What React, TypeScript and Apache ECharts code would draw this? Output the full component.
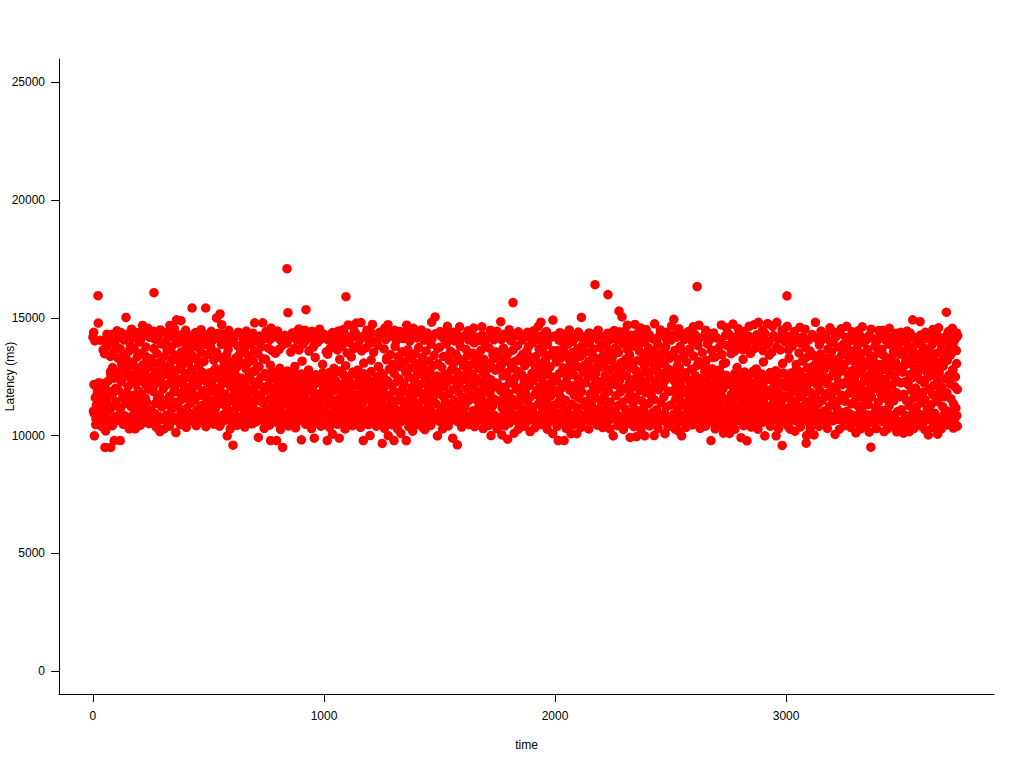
import React, { useEffect, useRef } from "react";
import * as echarts from "echarts";

const xTicks = [0, 1000, 2000, 3000];
const yTicks = [0, 5000, 10000, 15000, 20000, 25000];

const outliers = [[22,15944],[264,16070],[840,17090],[844,15220],[922,15350],[1095,15900],[1818,15650],[2173,16410],[2229,15990],[2615,16330],[3004,15940],[3694,15240],[2277,15290],[2290,15040]];
const topEdge = [[23,14780],[143,15020],[429,15420],[488,15420],[362,14920],[381,14880],[535,15000],[550,15170],[557,14710],[333,14680],[215,14680],[1481,15040],[1466,14820],[1534,14640],[1765,14840],[1939,14820],[1928,14640],[1991,14910],[2114,15020],[2313,14690],[2346,14720],[2431,14750],[2514,14940],[2505,14670],[1358,14690],[1277,14710],[2278,14410],[2623,14690],[2880,14810],[2960,14810],[3127,14810],[3262,14640],[3548,14920],[3580,14840],[3418,14470],[3496,14390],[700,14790],[735,14790],[1160,14800],[1210,14720],[1105,14700],[1140,14780],[2720,14700],[2770,14740],[2840,14640],[2920,14760],[3005,14640],[3060,14600],[3190,14580],[3330,14620],[3660,14580],[3720,14560]];
const bottomEdge = [[6,9990],[52,9495],[77,9495],[92,9790],[118,9790],[55,10200],[157,10290],[183,10290],[290,10170],[307,10280],[359,10130],[581,9990],[606,9595],[716,9920],[769,9790],[795,9790],[821,9495],[902,9820],[958,9890],[1014,9790],[1066,9890],[1170,9790],[1199,10000],[1037,10060],[1252,9665],[1278,10000],[1303,9790],[1333,10090],[1356,9790],[1384,10190],[1491,9990],[1557,9890],[1577,9610],[1437,10250],[1723,10000],[1770,10030],[1795,9850],[1823,10100],[1892,10170],[1990,10080],[2014,9790],[2039,9790],[2069,10080],[2094,10080],[2252,9990],[2325,9920],[2353,9960],[2388,9990],[2429,10000],[2476,10080],[2548,9990],[2538,10170],[2675,9790],[2729,10100],[2755,10090],[2805,9910],[2831,9780],[2908,9990],[2957,9990],[2983,9580],[3039,10190],[3087,9680],[3089,10000],[3121,10030],[3212,10050],[3302,10120],[3367,9510],[3360,10150],[3424,10170],[3479,10160],[3508,10100],[3533,10170],[3616,10030],[3656,10060]];

const bottomRim = [[12,10470],[38,10390],[84,10420],[131,10480],[170,10380],[206,10440],[243,10510],[274,10360],[331,10400],[378,10470],[404,10350],[447,10420],[489,10380],[523,10490],[548,10400],[594,10290],[623,10430],[657,10360],[689,10500],[741,10310],[764,10440],[812,10260],[846,10410],[877,10330],[921,10480],[946,10300],[987,10400],[1024,10350],[1059,10480],[1091,10280],[1123,10420],[1158,10350],[1192,10470],[1226,10400],[1262,10310],[1296,10460],[1318,10290],[1367,10380],[1402,10450],[1429,10340],[1462,10430],[1513,10280],[1538,10410],[1596,10360],[1627,10470],[1652,10380],[1689,10300],[1714,10430],[1749,10290],[1783,10410],[1841,10270],[1867,10400],[1912,10330],[1938,10470],[1966,10270],[2009,10390],[2048,10310],[2077,10450],[2112,10350],[2146,10280],[2183,10440],[2207,10340],[2238,10290],[2271,10420],[2296,10260],[2341,10380],[2372,10280],[2409,10410],[2446,10300],[2489,10380],[2521,10260],[2567,10350],[2594,10450],[2628,10310],[2651,10400],[2693,10290],[2712,10430],[2746,10330],[2779,10270],[2817,10420],[2849,10360],[2878,10270],[2932,10400],[2967,10290],[3007,10410],[3018,10270],[3062,10370],[3104,10280],[3142,10390],[3179,10310],[3231,10270],[3254,10420],[3281,10340],[3322,10280],[3345,10440],[3391,10300],[3438,10280],[3456,10410],[3492,10270],[3521,10350],[3552,10300],[3579,10420],[3601,10250],[3634,10340],[3672,10290],[3698,10450],[3724,10320],[3741,10400]];
const topRim = [[3,14390],[61,14310],[104,14450],[167,14520],[194,14380],[238,14560],[262,14430],[291,14490],[319,14370],[352,14560],[401,14470],[447,14320],[468,14500],[512,14430],[541,14340],[588,14470],[628,14390],[664,14440],[692,14350],[749,14420],[771,14570],[799,14440],[863,14350],[891,14530],[917,14480],[948,14430],[981,14520],[1037,14380],[1062,14440],[1084,14510],[1131,14440],[1186,14480],[1241,14390],[1263,14570],[1306,14470],[1329,14420],[1387,14560],[1421,14490],[1446,14360],[1502,14420],[1561,14390],[1587,14620],[1623,14450],[1648,14570],[1683,14620],[1721,14480],[1749,14430],[1802,14500],[1841,14410],[1881,14390],[1907,14450],[1963,14420],[2021,14370],[2062,14490],[2101,14400],[2147,14360],[2187,14480],[2228,14350],[2256,14460],[2303,14440],[2371,14570],[2394,14510],[2456,14490],[2483,14390],[2536,14540],[2577,14420],[2598,14620],[2652,14480],[2686,14360],[2743,14580],[2793,14540],[2817,14420],[2862,14710],[2899,14490],[2942,14640],[2983,14490],[3036,14420],[3082,14520],[3151,14440],[3208,14390],[3239,14540],[3286,14410],[3312,14450],[3368,14520],[3401,14460],[3447,14560],[3476,14350],[3524,14440],[3603,14390],[3636,14510],[3702,14420],[3738,14360]];
const midFill = [[76,12720],[132,12960],[148,13210],[201,12880],[229,13360],[268,13080],[305,12790],[344,13280],[386,12980],[414,13480],[459,13000],[524,12760],[566,13180],[599,12920],[633,13420],[668,13060],[708,12830],[747,13240],[768,12990],[786,13560],[809,12860],[841,12740],[874,12940],[905,13160],[933,12790],[962,13320],[994,13030],[1016,13460],[1043,12860],[1068,13240],[1094,12970],[1118,13340],[1147,12790],[1172,13080],[1204,13210],[1236,12930],[1271,13290],[1302,12800],[1337,13140],[1364,13460],[1393,12890],[1426,13200],[1458,12760],[1493,13050],[1527,13370],[1554,12810],[1588,13190],[1618,12940],[1642,13420],[1677,13060],[1704,12790],[1738,13280],[1763,12980],[1794,13510],[1822,12850],[1859,13140],[1885,13380],[1921,12780],[1949,13070],[1978,12920],[2004,13300],[2037,12740],[2063,13210],[2088,12990],[2121,13470],[2158,12830],[2192,13110],[2224,13360],[2255,12900],[2283,13010],[2317,13220],[2349,12770],[2378,13120],[2407,13400],[2432,12870],[2468,13060],[2497,13290],[2529,12960],[2561,13450],[2594,12800],[2622,13150],[2651,13000],[2683,13320],[2711,12790],[2738,13090],[2762,13480],[2788,12890],[2814,13240],[2843,13570],[2871,12830],[2902,13130],[2927,13420],[2956,12760],[2985,13060],[3013,13290],[3044,12820],[3071,13170],[3098,13390],[3126,12900],[3157,13070],[3189,13310],[3216,12800],[3247,13020],[3276,13230],[3303,12880],[3334,13140],[3365,13390],[3392,12770],[3428,13060],[3456,13280],[3487,12920],[3518,13200],[3546,13420],[3574,12860],[3607,13100],[3635,13340],[3663,12960],[3691,13210],[3722,12790],[3738,13060]];

// Latencies in time order, one block per 250 units of time.
const from0 = [14180,11040,12170,10930,14020,11610,10710,11290,12040,11830,10880,11420,12250,10620,11150,11750,14050,10970,11980,12210,11340,13640,10560,11690,13480,12120,10820,11220,13790,11510,14220,10680,12330,11880,13960,11090,13370,12620,10510,14290,11730,12890,13550,11260,12440,10790,13860,12010,11440,14110,12760,10640,13290,11920,12570,10910,13690,11160,14380,12280,13050,10590,11630,13440,12480,14060,10840,11370,13210,12700,11810,10690,14300,12090,13580,11540,12950,10750,13810,11230,12380,14150,11700,13120,10870,12600,13670,11050,14240,12180,10530,11470,13340,12830,11900,10960,13980,12520,11310,14070,10650,11770,13510,12300,13010,11130,14350,12650,10800,11580,13760,12110,11400,13240,10570,12900,11960,14180,12430,10730];
const from250 = [13260,11070,14320,12510,10620,11880,13700,12140,10930,14090,11360,12720,10540,13480,11590,12280,14240,10810,11740,13110,12420,10680,13890,11210,12990,14400,11980,10740,13350,11480,12610,14010,10860,12160,13620,11310,10560,12850,14200,11670,13040,10920,12330,13780,11120,14360,12540,10650,11860,13430,12060,14130,11430,10770,12780,13930,11260,13190,10600,12390,14270,11790,12920,10990,13550,11540,12200,14060,10700,13320,11940,12650,10530,13840,11150,14310,12470,11620,13080,10840,12040,13660,11370,14170,10630,12810,11830,13400,12260,10950,13980,11500,12580,14380,10720,13240,11100,12110,13750,10580,12950,11700,14040,12350,10880,13530,11280,12690,14220,11910,10660,13150,12440,11040,13870,10790,11560,14110,12230,13460];
const from500 = [14300,11250,10580,12670,11870,13760,10940,12320,14050,11480,10700,13210,12040,14210,11130,12850,10830,13540,11680,12460,14120,10620,11980,13340,11350,12790,10520,13870,12180,11560,14330,10890,12530,13020,11770,10660,14000,11220,13440,12290,10980,13650,11440,12710,10740,14260,12080,11630,13130,10570,12390,13950,11040,14140,11820,12600,10860,13300,11310,12910,10610,13810,12170,11520,14370,10760,11930,13560,12450,11180,10540,13080,14080,11730,12240,10910,13710,11390,12820,10640,14190,12000,11600,13390,10810,12550,11090,13900,11850,12360,10690,14290,11270,13180,12730,10960,13610,11470,12120,14020,10590,11760,13490,12280,11020,12930,10720,14230,11640,12480,13780,10850,11410,13270,12050,10630,14110,11900,12640,11160];
const from750 = [12520,14280,11080,10660,12130,13720,11540,10870,14090,11920,12410,10590,13610,11270,12720,10750,14320,11700,12040,13500,10940,11380,12600,14170,10540,11850,12290,13660,11150,10820,14040,12470,11610,10680,13840,12100,11330,12670,10920,14260,11790,10560,12210,13930,11470,10740,12550,14150,11020,11980,10630,13550,12340,11240,10890,14360,11680,12760,10710,13710,12060,11420,10520,14080,12490,11110,11840,10960,13640,12180,11560,10650,14220,12620,11290,10790,13880,11930,12380,10600,11730,14010,11060,12250,10850,14300,11500,12710,10700,13590,12010,11360,10570,14130,12450,11190,11880,10910,13770,12150,11620,10670,14250,12580,11310,10810,13960,11770,12330,10530,11440,14060,11000,12230,10760,14340,11590,12660,10620,11950];
const from1000 = [11150,14290,10640,12420,11820,13560,10890,12110,14080,11360,10550,12680,11690,13720,10970,12270,14200,11480,10720,12540,11060,13880,11930,10600,12350,14340,11240,10830,13640,12050,11570,10680,12740,14130,11410,10930,12180,13790,11780,10520,12600,14030,11130,10770,12300,14260,11610,10880,13510,12000,11320,10640,12490,13950,11890,10950,12220,14160,11480,10700,12700,11040,13690,11730,10580,12140,14320,11270,10830,12560,13820,11650,10980,12380,14060,11180,10620,11960,13600,12080,11400,10750,12630,14240,11540,10900,12260,13730,11830,10540,12460,14110,11090,10810,12170,13920,11700,11000,12720,14350,11350,10660,12020,13540,11590,10860,12330,14000,11210,10730,11910,12510,13840,11450,10590,12230,14190,11770,10940,12650];
const from1250 = [11420,14300,10630,12560,11060,13680,12080,10860,14080,11730,13220,10540,12330,11240,14190,10970,12820,11590,13440,10720,12150,14350,11350,10600,13030,11890,12640,10810,13790,11130,14020,12280,10660,11510,13350,10920,12420,14240,11670,10580,12930,11020,13560,11960,10740,14120,12210,11300,13130,10870,12710,14360,11450,10640,13650,11810,12490,10990,14010,11190,12870,10700,13280,12050,11580,14270,10530,12370,11760,13480,10900,13060,11270,14150,12590,10680,11930,13740,11400,12180,10820,14300,11090,12780,13330,10620,11650,12920,14050,10950,12460,11510,13590,11840,10750,14210,12120,11240,13170,10570,12680,11700,13890,11010,14100,12310,10850,11470,12980,13410,10690,12000,14330,11350,12530,10930,13710,11780,12230,10610];
const from1500 = [13750,10880,12490,14230,11150,12900,10610,11680,13360,12070,14090,10740,11430,12620,13890,11010,12260,14340,10560,11790,13200,12420,10960,13580,11260,14160,12810,10680,11950,13040,11510,14020,12340,10820,13460,11110,12700,14280,10590,11870,13280,12160,10930,13800,11370,14120,12540,10720,11640,13110,12960,10500,14240,11220,12380,13660,10850,11980,13390,12750,11470,14060,10640,12230,13000,11730,14310,10770,12610,13500,11060,12100,13940,10900,11560,13170,12440,14180,10620,11830,12850,13310,11310,14040,10980,12300,13620,11600,10700,14270,12030,12660,13240,11170,10530,13850,11900,12510,14130,10800,11400,13080,12190,13720,10950,11750,14330,12370,12920,10660,11250,13430,12050,14070,10860,11530,12780,13560,10590,12140];
const from1750 = [12230,14260,10720,11460,13380,12810,10580,11900,14090,13010,11180,10840,12540,13720,11620,14310,10650,12080,13240,11320,12680,10960,14150,13500,11790,10530,12370,13090,11040,14020,12900,10760,11540,13640,12190,10880,14220,11260,12470,13170,11960,10610,13820,12720,11390,14340,10700,12020,13310,11700,10990,12590,14060,13450,11130,10810,12280,12970,11850,14180,10560,13590,11480,12430,10910,13780,12120,11610,14280,10680,13130,11230,12640,13940,11030,12330,10780,14110,11750,12840,13360,10600,11920,14240,12520,11340,10860,13680,12060,13050,11560,14000,10640,12400,11170,13540,10940,12760,14320,11810,13210,10720,12150,11430,13860,12610,10540,14130,11080,12910,13420,11680,10830,12270,14200,11990,13600,10670,12490,11290];
const from2000 = [11830,14240,10680,13130,12320,10940,13620,11410,14050,12640,10570,11650,13290,12010,14330,10800,11230,12880,13760,10620,12210,14120,11500,13440,10980,12470,11070,13880,10730,12760,14280,11920,13060,10540,12130,11340,13530,14010,10860,12580,11720,13210,10650,12040,14180,11190,12930,13690,10770,12380,11590,14300,10910,13370,12170,11860,13810,10590,12700,14080,11280,12990,10690,13570,12240,11460,14220,10840,12520,11010,13150,13930,10610,11780,12830,14110,11360,13480,10970,12100,13680,10720,12430,11620,14340,12650,10530,13260,11950,13020,11140,14040,10880,12290,13740,11500,10660,12910,14190,12060,13400,10790,11690,13110,12550,10950,13850,11240,14270,12350,10600,11880,13590,12800,11430,14090,10740,12180,13200,11060];
const from2250 = [13380,11010,14230,12490,10700,13720,11690,12150,10910,14080,12820,11270,13540,10580,12330,14310,11850,13090,10790,12620,11430,13890,11990,10640,14150,12960,11130,13250,10860,12540,13650,11560,14020,10510,12230,13430,11770,12870,10980,14260,12050,13000,11340,10710,13800,12400,14110,11620,10830,12730,13180,11060,14340,12190,10620,13590,11910,12580,10940,13950,11480,12300,14200,10740,13310,11200,12910,14060,10560,11820,13470,12100,12680,10880,13730,11370,14280,12450,10660,13120,11700,12010,14130,10990,13620,12780,11530,10590,13330,12260,14010,11100,12940,10770,13860,11950,12520,14240,10850,13220,11410,12650,13510,10630,12130,14320,11640,13060,10920,12360,13770,11220,14090,10720,12840,11880,13400,10540,12570,14170];
const from2500 = [11300,14060,12760,10640,13440,11880,14280,10920,12310,13620,11520,12040,10730,14180,12590,11140,13250,10560,12880,11700,13790,12170,10860,14330,11410,10620,12470,13560,11960,14080,10780,11230,12670,13130,11790,10990,14210,12380,11480,10680,13680,12090,11060,12810,10530,14000,11620,12250,13380,10840,11340,14290,12540,11870,10710,12980,11180,13820,12020,10950,14120,11560,12420,13030,10600,11750,13520,12190,11280,10880,14240,12730,11430,10650,13190,11930,12350,13900,11040,10760,12610,14070,11640,12130,10920,13630,11360,12840,10550,14310,11820,12280,11120,13340,10820,12500,14150,11480,10690,12030,13720,11240,12700,10970,14020,11710,12400,13440,10590,11990,13060,12220,11550,10880,14260,11090,12560,13830,10740,11330];
const from2750 = [10660,14310,11480,12160,10900,13730,11750,12430,11050,14040,10580,12030,11610,13580,12640,10780,14200,11270,11930,10850,12290,13910,11160,10630,12510,11720,14340,10990,11380,12110,13640,10530,11840,14110,12700,11240,10750,12350,13820,11530,10920,11990,14230,12590,11100,10670,13490,11660,12220,10810,14050,11430,12740,11890,10600,13700,11180,12060,10960,14280,12460,11570,10720,11320,13950,12130,10880,11780,14130,12620,11040,10560,13610,11480,12280,10790,14340,11950,11210,12530,10650,13860,11700,12390,10940,14010,11130,12680,11840,10610,13530,12000,11350,10830,14250,11600,12180,10710,12470,11060,13760,11920,10980,14100,12580,11280,10540,11760,13640,12250,11430,10870,14300,11540,12660,10690,11150,13990,12080,10930];
const from3000 = [11690,14240,10830,12380,10560,13640,11200,12070,10940,14010,11520,12660,10720,13800,11870,12220,11040,14310,10640,12550,11360,13020,10870,14100,11960,12310,10590,13510,11630,12710,10980,13910,11130,12110,10780,14200,11770,12480,11270,13270,10660,13740,12020,11440,12880,10900,14050,11090,12250,10520,13590,11840,12620,10750,14290,11560,12950,11190,13400,10830,12400,11730,14150,10610,13160,12140,11350,12760,10960,13850,11930,10700,13470,12570,11480,14080,10870,12310,13300,11040,12820,11650,14260,10560,13040,12210,11800,13670,10920,12450,11260,14020,10770,12990,13540,11600,12060,10630,13960,12680,11380,13230,10850,14190,11900,12520,11120,13760,10690,12270,13100,11500,14330,10990,12740,13420,11710,12170,10600,13880];
const from3250 = [12930,10780,13540,11460,14180,12280,11030,13720,10600,12580,13190,11800,14010,10910,12110,13400,11350,12760,14300,10690,11950,13600,12430,10840,13080,11570,14100,12190,10550,13820,11240,12650,13310,11710,10970,14220,12060,13490,11120,12850,10720,13950,12340,11500,13130,10630,14060,11880,12520,13660,10880,11320,12990,14260,12230,10760,13380,11640,12710,14140,10540,13230,11980,12460,10950,13790,11190,12900,14010,10660,12120,13510,11430,12600,13020,10830,14320,11770,12280,13670,11070,10590,13420,12810,11900,14090,10730,12390,13150,11560,14240,10980,12040,13880,11260,12690,13300,10620,11720,14150,12950,12170,10860,13570,11480,12510,14030,10700,13100,11830,12330,13730,11020,14280,12790,10570,13460,11650,12240,13980];
const from3500 = [11100,14120,12700,10620,13580,11760,12980,14290,10850,12300,13320,11480,14060,10700,12150,13790,11270,12590,14350,10540,13060,11920,12450,13650,10980,11590,14180,12830,10790,13420,12020,11200,13900,10640,12640,14010,11690,13180,10910,12380,14270,11380,13530,10750,12910,11840,13740,10580,12240,14110,11520,13260,12750,10870,14320,11120,12480,13620,11980,10680,13010,14200,11310,12570,13850,10820,11740,13360,12130,14060,10950,12860,13480,11610,10600,14260,12340,11440,13110,10730,12680,13960,11890,10520,13670,12050,14150,11230,12950,13310,10890,11650,14030,12410,13540,10660,11820,13200,14330,11030,12560,13770,10780,12200,13420,11560,14190,10960,12790,13890,11350,10630,12090,14080,12490,11170,13610,10850,11960,14240];

const segmentLengths = [250, 250, 250, 250, 250, 250, 250, 250, 250, 250, 250, 250, 250, 250, 245];
const segments = [from0, from250, from500, from750, from1000, from1250, from1500, from1750, from2000, from2250, from2500, from2750, from3000, from3250, from3500];

const FONT = '"Liberation Sans", Arial, sans-serif';

export default function App() {
  const ref = useRef<HTMLDivElement>(null);
  useEffect(() => {
    const chart = echarts.init(ref.current!, null, { renderer: "svg" });
    const body: number[][] = [];
    let start = 0;
    segments.forEach((values, s) => {
      values.forEach((v, i) => body.push([Math.round(start + (i * segmentLengths[s]) / values.length), v]));
      start += segmentLengths[s];
    });
    const axisBase = {
      axisLine: { show: true, onZero: false, lineStyle: { color: "#000", width: 1 } },
      axisTick: { show: true, length: 8, lineStyle: { color: "#000", width: 1 } },
      splitLine: { show: false },
    };
    const labelBase = { color: "#000", fontFamily: FONT, fontSize: 12, showMinLabel: true, showMaxLabel: true, formatter: (v: number) => String(v) };
    chart.setOption({
      animation: false,
      backgroundColor: "#fff",
      grid: { left: 59, right: 30, top: 59, bottom: 74, containLabel: false, outerBoundsMode: "none" },
      xAxis: {
        ...axisBase,
        type: "value",
        min: -147,
        max: 3900,
        name: "time",
        nameLocation: "center",
        nameGap: 45,
        nameMoveOverlap: false,
        nameTextStyle: { color: "#000", fontFamily: FONT, fontSize: 12 },
        axisTick: { ...axisBase.axisTick, customValues: xTicks },
        axisLabel: { ...labelBase, customValues: xTicks, margin: 16 },
      },
      yAxis: {
        ...axisBase,
        type: "value",
        min: -977,
        max: 25998,
        name: "Latency (ms)",
        nameLocation: "center",
        nameGap: 43,
        nameMoveOverlap: false,
        nameTextStyle: { color: "#000", fontFamily: FONT, fontSize: 12 },
        axisTick: { ...axisBase.axisTick, customValues: yTicks },
        axisLabel: { ...labelBase, customValues: yTicks, margin: 14 },
      },
      series: [
        {
          type: "scatter",
          symbol: "circle",
          symbolSize: 9.5,
          itemStyle: { color: "#ff0000", opacity: 1 },
          data: [...body, ...midFill, ...topRim, ...bottomRim, ...topEdge, ...bottomEdge, ...outliers],
        },
      ],
    });
    return () => chart.dispose();
  }, []);
  return <div ref={ref} style={{ position: "absolute", left: 0, top: 0, width: 1024, height: 768 }} />;
}
